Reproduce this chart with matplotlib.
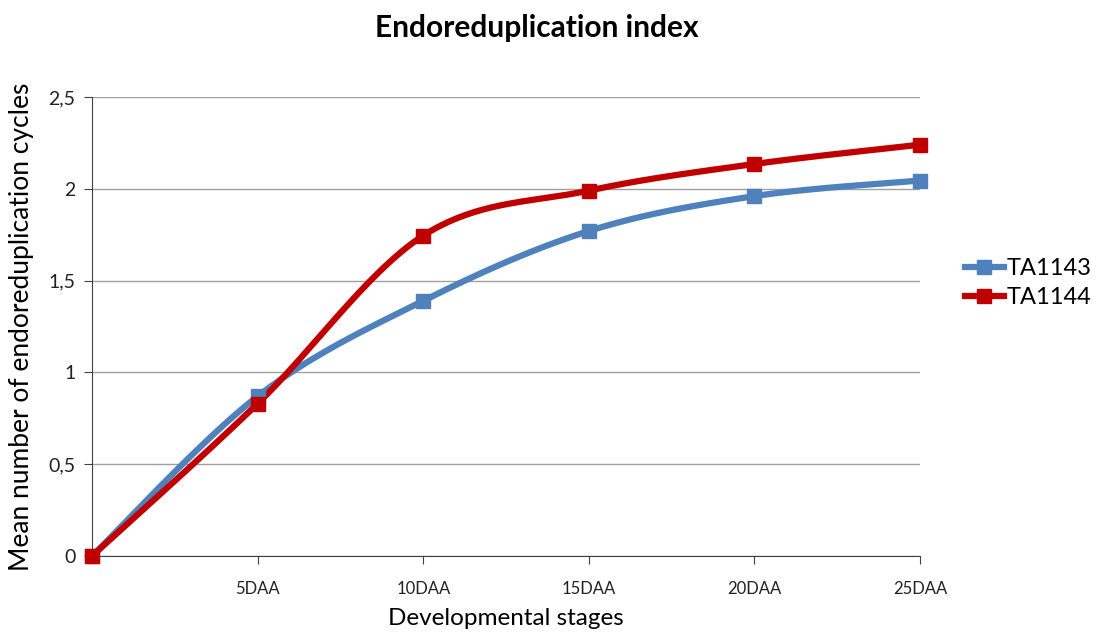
import numpy as np
import matplotlib
matplotlib.use("Agg")
import matplotlib.pyplot as plt
from matplotlib.lines import Line2D

plt.rcParams['font.family'] = ['Lato', 'DejaVu Sans']

etapas = ['', '5DAA', '10DAA', '15DAA', '20DAA', '25DAA']
ta1143 = [0, 0.87, 1.39, 1.77, 1.96, 2.045]
ta1144 = [0, 0.83, 1.745, 1.99, 2.135, 2.24]
y_ticks = [0, 0.5, 1, 1.5, 2, 2.5]
y_labels = ['0', '0,5', '1', '1,5', '2', '2,5']


def suavizar(xs, ys, n=40):
    # curva tipo Catmull-Rom, como la linea suavizada de Excel
    px = np.concatenate([[xs[0]], xs, [xs[-1]]])
    py = np.concatenate([[ys[0]], ys, [ys[-1]]])
    sx, sy = [], []
    t = np.linspace(0, 1, n)
    for i in range(1, len(px) - 2):
        for p, s in ((px, sx), (py, sy)):
            p0, p1, p2, p3 = p[i - 1], p[i], p[i + 1], p[i + 2]
            s.extend(0.5 * (2 * p1 + (-p0 + p2) * t
                            + (2 * p0 - 5 * p1 + 4 * p2 - p3) * t ** 2
                            + (-p0 + 3 * p1 - 3 * p2 + p3) * t ** 3))
    return np.array(sx), np.array(sy)


fig = plt.figure(figsize=(11.01, 6.33), dpi=100)
ax = fig.add_axes([0.0836, 0.1216, 0.752, 0.7252])

x = np.arange(len(etapas))
series = [('TA1143', ta1143, '#4F81BD'), ('TA1144', ta1144, '#C00000')]
for nombre, vals, color in series:
    sx, sy = suavizar(x.astype(float), np.array(vals, dtype=float))
    ax.plot(sx, sy, color=color, lw=4.5, solid_capstyle='round', zorder=3)
    ax.plot(x, vals, 's', color=color, ms=10, zorder=4, clip_on=False)

ax.set_xlim(0, 5)
ax.set_ylim(0, 2.5)
ax.set_xticks(x[1:])
ax.set_xticklabels(etapas[1:])
ax.set_yticks(y_ticks)
ax.set_yticklabels(y_labels)
ax.tick_params(axis='both', color='#404040', length=6, labelcolor='#222222')
ax.tick_params(axis='x', labelsize=12, pad=12)
ax.tick_params(axis='y', labelsize=14, pad=6)
ax.yaxis.grid(True, color='#A0A0A0', lw=1)
ax.set_axisbelow(True)
for lado in ['top', 'right']:
    ax.spines[lado].set_visible(False)
for lado in ['left', 'bottom']:
    ax.spines[lado].set_color('#404040')

ax.set_xlabel('Developmental stages', fontsize=17.5, labelpad=8)
ax.set_ylabel('Mean number of endoreduplication cycles', fontsize=19, labelpad=10)
fig.text(0.488, 0.955, 'Endoreduplication index', fontsize=21.5, fontweight='bold',
         ha='center', va='center')

handles = [Line2D([0], [0], color=c, lw=4.5, marker='s', ms=10) for _, _, c in series]
fig.legend(handles, [s[0] for s in series], loc='center left',
           bbox_to_anchor=(0.857, 0.553), frameon=False, fontsize=17,
           handlelength=1.65, handletextpad=0.1, labelspacing=0.35)

fig.savefig('out.png', dpi=100)
